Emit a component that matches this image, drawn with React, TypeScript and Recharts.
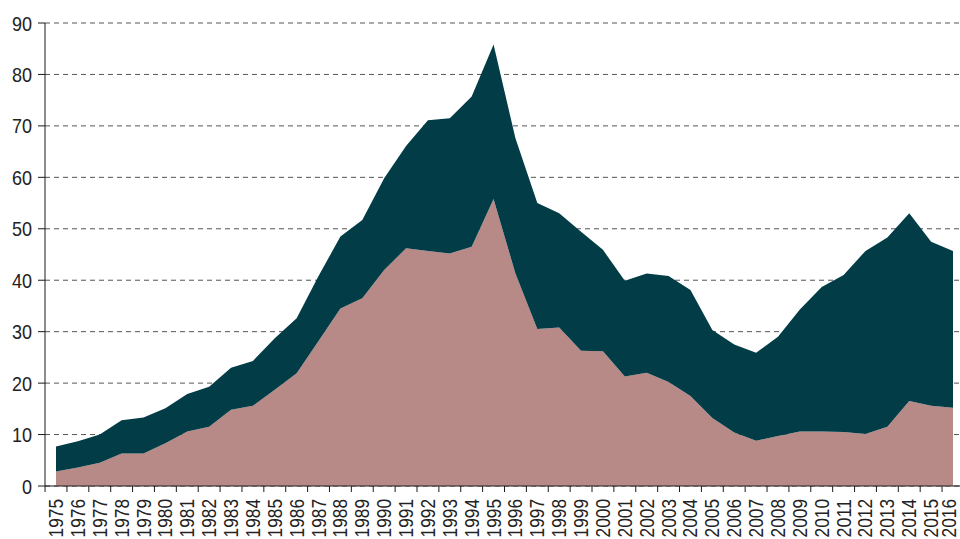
import { AreaChart, Area, XAxis, YAxis, CartesianGrid } from "recharts";

const years = [
  "1975", "1976", "1977", "1978", "1979", "1980", "1981", "1982", "1983", "1984",
  "1985", "1986", "1987", "1988", "1989", "1990", "1991", "1992", "1993", "1994",
  "1995", "1996", "1997", "1998", "1999", "2000", "2001", "2002", "2003", "2004",
  "2005", "2006", "2007", "2008", "2009", "2010", "2011", "2012", "2013", "2014",
  "2015", "2016",
];

// pink band at the bottom
const lowerSeries = [
  2.8, 3.6, 4.5, 6.3, 6.3, 8.3, 10.6, 11.5, 14.8, 15.6,
  18.7, 21.9, 28.2, 34.5, 36.5, 42.0, 46.2, 45.7, 45.2, 46.5,
  55.8, 41.3, 30.5, 30.8, 26.3, 26.2, 21.3, 22.0, 20.2, 17.5,
  13.2, 10.4, 8.8, 9.7, 10.6, 10.6, 10.5, 10.1, 11.5, 16.5,
  15.6, 15.2,
];

// dark band stacked on top
const upperSeries = [
  4.9, 5.1, 5.5, 6.5, 7.0, 6.8, 7.3, 7.8, 8.2, 8.7,
  10.0, 10.7, 12.6, 14.0, 15.2, 17.8, 19.9, 25.4, 26.3, 29.2,
  30.0, 26.3, 24.5, 22.2, 23.1, 19.7, 18.6, 19.3, 20.6, 20.6,
  17.1, 17.1, 17.1, 19.3, 23.7, 28.1, 30.5, 35.6, 36.8, 36.5,
  31.9, 30.5,
];

const yTicks = [0, 10, 20, 30, 40, 50, 60, 70, 80, 90];

const data = years.map((year, i) => ({
  year,
  lower: lowerSeries[i],
  upper: upperSeries[i],
}));

const W = 960;
const H = 539;
const Y_W = 45;
const PAD_L = 11;
const PAD_R = 7;
const STEP = (W - Y_W - PAD_L - PAD_R) / (years.length - 1);
const FONT = '"Liberation Sans Narrow", "Liberation Sans", Arial, sans-serif';
const FONT_SIZE = 20;
const DIGIT_W = 9.6; // the reference uses a condensed face, squeeze to match

function YearTick({ x, y, payload }: any) {
  const lx = x - STEP / 2;
  const ty = y + 13;
  // keep the last label inside the picture
  const tx = Math.min(x, W - FONT_SIZE * 0.56);
  const label = String(payload.value);
  return (
    <g>
      <line x1={lx} x2={lx} y1={y} y2={y + 6} stroke="#1a1a1a" strokeWidth={1} />
      <text
        x={tx}
        y={ty}
        transform={`rotate(-90 ${tx} ${ty})`}
        textAnchor="end"
        dominantBaseline="central"
        fontFamily={FONT}
        fontSize={FONT_SIZE}
        fill="#222"
        textLength={label.length * DIGIT_W}
        lengthAdjust="spacingAndGlyphs"
      >
        {label}
      </text>
    </g>
  );
}

function ValueTick({ x, y, payload }: any) {
  const label = String(payload.value);
  return (
    <text
      x={x}
      y={y}
      dy="0.36em"
      textAnchor="end"
      fontFamily={FONT}
      fontSize={21}
      fill="#222"
      textLength={label.length * 10}
      lengthAdjust="spacingAndGlyphs"
    >
      {label}
    </text>
  );
}

export default function App() {
  return (
    <div style={{ position: "absolute", left: 0, top: 0, width: W, height: H, background: "#fff" }}>
      <AreaChart
        width={W}
        height={H}
        data={data}
        margin={{ top: 23, right: 0, bottom: 0, left: 0 }}
      >
        <CartesianGrid vertical={false} strokeDasharray="5 4" stroke="#555" />
        <XAxis
          dataKey="year"
          interval={0}
          padding={{ left: PAD_L, right: PAD_R }}
          height={53}
          tickSize={0}
          tickMargin={0}
          tickLine={false}
          axisLine={{ stroke: "#1a1a1a" }}
          tick={<YearTick />}
        />
        <YAxis
          width={Y_W}
          domain={[0, 90]}
          ticks={yTicks}
          interval={0}
          tickSize={7}
          tickMargin={6}
          axisLine={{ stroke: "#1a1a1a" }}
          tickLine={{ stroke: "#1a1a1a" }}
          tick={<ValueTick />}
        />
        <Area
          type="linear"
          dataKey="lower"
          stackId="a"
          fill="#b78a87"
          fillOpacity={1}
          stroke="none"
          isAnimationActive={false}
        />
        <Area
          type="linear"
          dataKey="upper"
          stackId="a"
          fill="#023d47"
          fillOpacity={1}
          stroke="none"
          isAnimationActive={false}
        />
      </AreaChart>
    </div>
  );
}
